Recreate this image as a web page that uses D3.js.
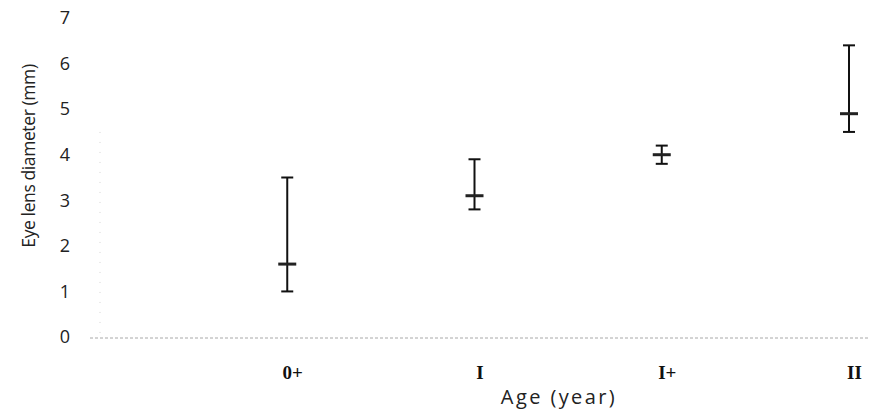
<!DOCTYPE html>
<html>
<head>
<meta charset="utf-8">
<script src="https://cdn.jsdelivr.net/npm/d3@7"></script>
<style>
  body { margin: 0; background: #fff; }
  svg { display: block; }
</style>
</head>
<body>
<div id="chart"></div>
<script>
// age classes and eye lens diameter (mm): mean with min / max
var ages = ["0+", "I", "I+", "II"];
var means = [1.6, 3.1, 4.0, 4.9];
var lows = [1.0, 2.8, 3.8, 4.5];
var highs = [3.5, 3.9, 4.2, 6.4];
var yTicks = [0, 1, 2, 3, 4, 5, 6, 7];

var width = 870,
    height = 414;

var svg = d3.select("#chart").append("svg")
  .attr("width", width)
  .attr("height", height);

var x = d3.scaleLinear().domain([0, 4]).range([100, 849]);
var y = d3.scaleLinear().domain([0, 7]).range([337, 18]);

var data = ages.map(function(a, i) {
  return {age: a, pos: i + 1, mean: means[i], low: lows[i], high: highs[i]};
});

// faint value axis
svg.append("line")
  .attr("x1", x(0)).attr("x2", x(0))
  .attr("y1", y(4.5)).attr("y2", y(0))
  .attr("stroke", "#d4d4d4")
  .attr("stroke-width", 1)
  .attr("stroke-dasharray", "1,9");

// category axis line (dotted grey)
svg.append("line")
  .attr("x1", 90).attr("x2", width)
  .attr("y1", y(0) + 1).attr("y2", y(0) + 1)
  .attr("stroke", "#a8a8a8")
  .attr("stroke-width", 1)
  .attr("stroke-dasharray", "3,2");

// y tick labels
var yAxis = d3.axisLeft(y).tickValues(yTicks).tickFormat(d3.format("d"))
  .tickSize(0).tickPadding(0);
var ya = svg.append("g")
  .attr("transform", "translate(70,0)")
  .call(yAxis);
ya.select(".domain").remove();
ya.selectAll("text")
  .attr("font-family", "'Open Sans', sans-serif")
  .attr("font-size", 18)
  .attr("fill", "#222");

// x tick labels
var xAxis = d3.axisBottom(x).tickValues(data.map(function(d) { return d.pos; }))
  .tickFormat(function(d) { return ages[d - 1]; })
  .tickSize(0).tickPadding(0);
var xa = svg.append("g")
  .attr("transform", "translate(5,365)")
  .call(xAxis);
xa.select(".domain").remove();
xa.selectAll("text")
  .attr("font-family", "'Liberation Serif', serif")
  .attr("font-weight", "bold")
  .attr("font-size", 19)
  .attr("fill", "#111");

// error bars
var g = svg.selectAll(".bar")
  .data(data)
  .enter().append("g")
  .attr("class", "bar");

g.append("line")
  .attr("x1", function(d) { return x(d.pos); })
  .attr("x2", function(d) { return x(d.pos); })
  .attr("y1", function(d) { return y(d.high); })
  .attr("y2", function(d) { return y(d.low); })
  .attr("stroke", "#111")
  .attr("stroke-width", 2);

["high", "low"].forEach(function(k) {
  g.append("line")
    .attr("x1", function(d) { return x(d.pos) - 6; })
    .attr("x2", function(d) { return x(d.pos) + 6; })
    .attr("y1", function(d) { return y(d[k]); })
    .attr("y2", function(d) { return y(d[k]); })
    .attr("stroke", "#111")
    .attr("stroke-width", 2);
});

g.append("rect")
  .attr("x", function(d) { return x(d.pos) - 9; })
  .attr("y", function(d) { return y(d.mean) - 1.5; })
  .attr("width", 18)
  .attr("height", 3)
  .attr("fill", "#222");

// axis titles
svg.append("text")
  .attr("transform", "translate(35," + 156 + ") rotate(-90)")
  .attr("text-anchor", "middle")
  .attr("font-family", "'Open Sans', sans-serif")
  .attr("font-size", 17.5)
  .attr("letter-spacing", -0.4)
  .attr("fill", "#222")
  .text("Eye lens diameter (mm)");

svg.append("text")
  .attr("x", 559)
  .attr("y", 404)
  .attr("text-anchor", "middle")
  .attr("font-family", "'Open Sans', sans-serif")
  .attr("font-size", 20)
  .attr("letter-spacing", 2.4)
  .attr("fill", "#222")
  .text("Age (year)");
</script>
</body>
</html>
